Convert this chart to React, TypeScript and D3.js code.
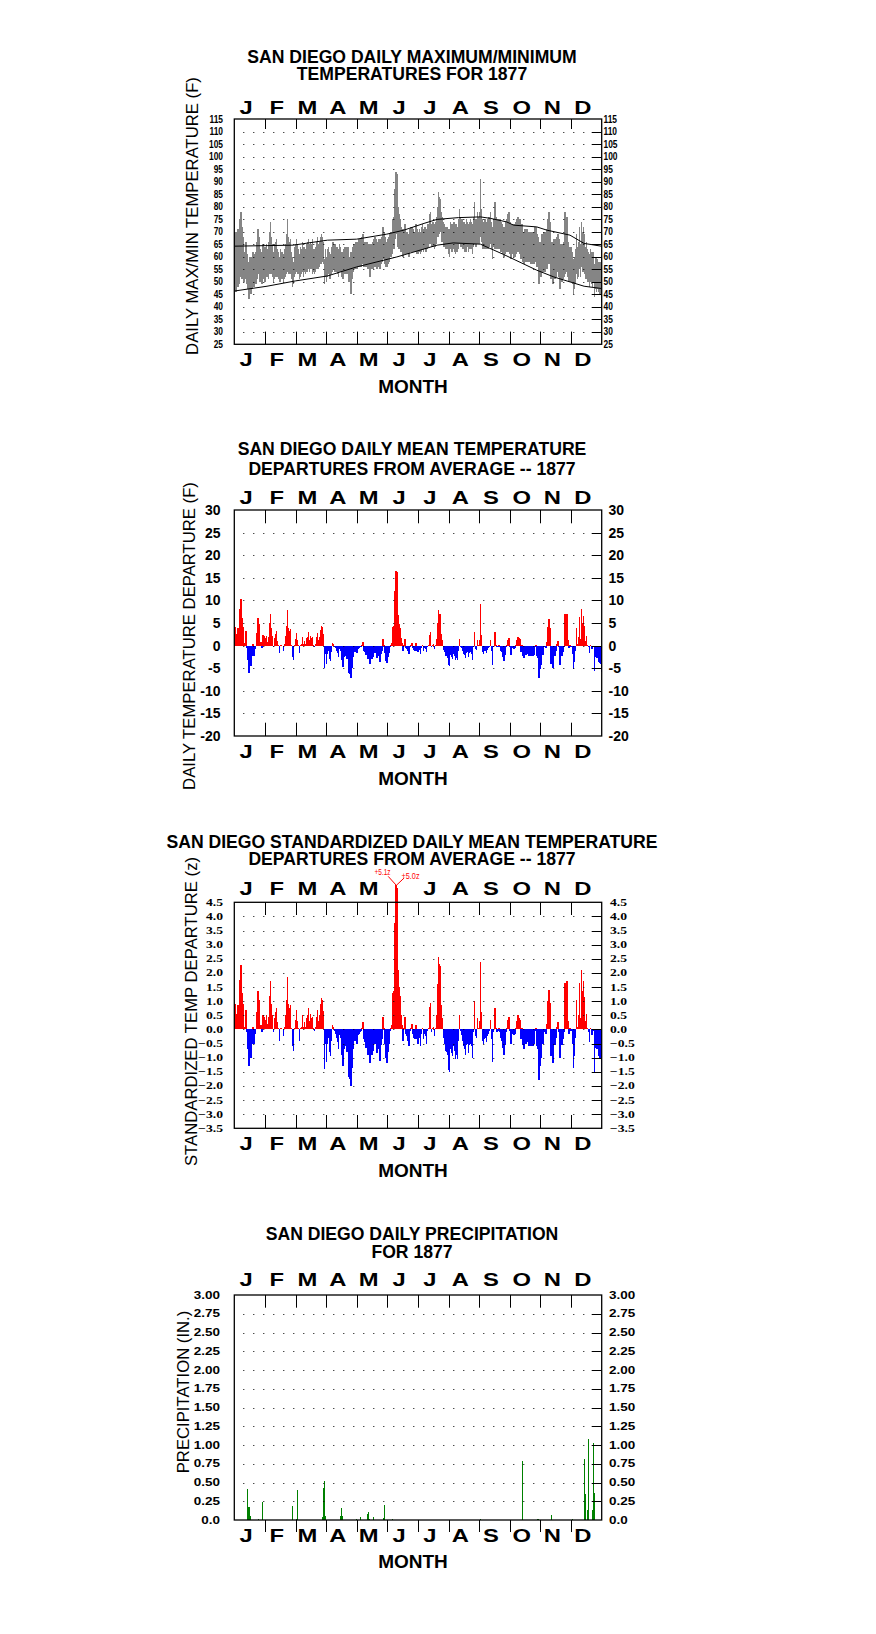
import React, { useEffect } from "react";
import * as d3 from "d3";

// ---------------- DATA ----------------
const MONTH_LETTERS = ["J", "F", "M", "A", "M", "J", "J", "A", "S", "O", "N", "D"];

// Chart 1 : daily maximum / minimum temperatures (F), day 0 = Jan 1
const TMAX = [
  70, 70, 66, 71, 67, 75, 78, 72, 68, 62, 60, 66, 61, 58, 56, 60, 57, 60, 62, 59, 61, 62, 66, 71, 68, 63, 62, 61, 65, 64, 64,
  65, 63, 66, 70, 74, 68, 65, 62, 65, 66, 67, 63, 62, 60, 63, 62, 62, 61, 63, 65, 69, 75, 68, 66, 67, 62, 60, 58,
  64, 65, 67, 65, 63, 61, 64, 63, 66, 64, 64, 63, 65, 66, 67, 65, 66, 65, 67, 63, 63, 64, 66, 68, 65, 66, 68, 69, 68, 66, 59,
  63, 60, 63, 64, 62, 61, 64, 66, 66, 65, 65, 64, 64, 63, 65, 64, 62, 61, 63, 64, 64, 63, 64, 60, 59, 62, 61, 64, 65, 65,
  66, 65, 66, 67, 67, 67, 68, 69, 66, 66, 65, 66, 64, 65, 63, 65, 65, 66, 67, 68, 67, 66, 66, 67, 65, 67, 68, 72, 70, 68, 66,
  65, 67, 68, 69, 70, 70, 75, 76, 87, 94, 93, 80, 77, 75, 72, 71, 69, 71, 73, 70, 70, 69, 69, 71, 72, 72, 71, 70, 70, 73,
  71, 70, 71, 70, 72, 73, 71, 72, 72, 71, 73, 73, 77, 78, 73, 74, 74, 73, 74, 76, 80, 86, 84, 83, 78, 76, 74, 73, 72, 72, 72,
  71, 71, 74, 73, 73, 74, 74, 73, 73, 72, 75, 79, 76, 75, 75, 74, 74, 73, 75, 74, 73, 74, 75, 74, 73, 76, 82, 75, 75, 78, 76,
  78, 91, 79, 75, 74, 75, 75, 74, 75, 76, 76, 78, 74, 72, 75, 82, 76, 75, 75, 75, 75, 74, 73, 72, 71, 72, 74, 75, 77, 78,
  74, 72, 73, 73, 73, 73, 74, 75, 76, 75, 75, 71, 73, 70, 70, 71, 70, 71, 70, 69, 70, 69, 70, 69, 70, 72, 72, 69, 68, 66, 65,
  66, 69, 68, 70, 70, 69, 71, 75, 78, 74, 64, 66, 63, 67, 66, 67, 68, 69, 67, 63, 65, 65, 65, 66, 78, 75, 76, 66, 63, 64,
  64, 62, 59, 60, 63, 69, 64, 66, 72, 65, 74, 70, 72, 69, 64, 66, 63, 62, 61, 63, 62, 62, 62, 57, 60, 60, 59, 58, 58, 58, 56,
];
const TMIN = [
  49, 46, 50, 48, 49, 52, 54, 51, 51, 50, 51, 52, 49, 47, 43, 45, 45, 47, 50, 48, 49, 49, 51, 53, 53, 50, 51, 49, 51, 51, 50,
  52, 52, 51, 53, 53, 53, 52, 50, 51, 52, 52, 52, 51, 50, 50, 51, 51, 50, 51, 52, 53, 54, 53, 53, 53, 51, 48, 49,
  52, 53, 54, 53, 53, 51, 52, 53, 54, 52, 54, 53, 54, 54, 55, 54, 55, 55, 53, 54, 53, 54, 55, 55, 55, 56, 57, 57, 58, 57, 49,
  52, 50, 52, 53, 51, 51, 53, 54, 55, 54, 54, 54, 53, 52, 54, 54, 52, 51, 53, 53, 53, 53, 54, 50, 50, 45, 51, 54, 55, 55,
  55, 55, 56, 56, 56, 56, 57, 57, 56, 56, 56, 56, 55, 56, 52, 56, 55, 55, 56, 57, 56, 55, 56, 57, 55, 57, 58, 59, 59, 57, 56,
  56, 57, 58, 60, 60, 61, 63, 63, 67, 69, 70, 64, 63, 63, 62, 62, 60, 61, 62, 61, 61, 61, 60, 62, 62, 63, 62, 62, 62, 62,
  61, 61, 62, 61, 62, 63, 62, 63, 62, 62, 63, 64, 65, 65, 64, 64, 64, 63, 64, 65, 68, 68, 69, 70, 66, 66, 64, 64, 63, 63, 63,
  61, 60, 63, 62, 62, 63, 62, 61, 62, 62, 63, 65, 64, 64, 63, 63, 62, 62, 62, 64, 62, 63, 63, 63, 61, 64, 65, 64, 64, 65, 65,
  65, 68, 66, 63, 63, 63, 63, 63, 63, 63, 64, 65, 63, 59, 64, 63, 64, 63, 63, 64, 63, 62, 62, 61, 60, 61, 62, 62, 62, 62,
  61, 59, 61, 61, 60, 60, 61, 62, 62, 62, 61, 59, 60, 58, 57, 58, 58, 59, 58, 58, 58, 57, 57, 57, 57, 58, 59, 56, 56, 49, 54,
  52, 55, 54, 55, 54, 55, 55, 57, 58, 57, 51, 52, 49, 52, 51, 52, 54, 54, 52, 47, 51, 50, 51, 52, 53, 54, 54, 52, 50, 51,
  50, 49, 45, 47, 49, 53, 51, 52, 55, 52, 56, 54, 54, 53, 51, 51, 50, 50, 48, 50, 49, 48, 50, 44, 47, 46, 47, 46, 45, 45, 42,
];
// Chart 1 : normal max / min curves (day, degF)
const NMAX_DAY = [0, 58, 92, 121, 151, 168, 188, 201, 222, 244, 254, 270, 277, 300, 310, 333, 347, 364];
const NMAX_VAL = [64.2, 64.6, 66.6, 67, 69, 70.6, 73.3, 74.9, 75.6, 75.9, 75.3, 73.9, 72.6, 71.9, 70.6, 68.6, 65.3, 64.2];
const NMIN_DAY = [0, 32, 60, 92, 121, 161, 201, 217, 244, 267, 300, 317, 347, 364];
const NMIN_VAL = [46.3, 48.2, 50.3, 52.3, 55.9, 59.9, 64.6, 65.5, 65, 60.9, 54.6, 51.9, 48.2, 47.3];

// Chart 2 : daily mean temperature departure (F)
const DEP = [
  4.1, 2.5, 2.5, 3.9, 2.5, 8.1, 10.4, 6.0, 4.1, 0.5, 0, 3.2, -0.5, -3.2, -6.0, -3.2, -4.6, -2.3, 0.3, -2.3, -0.7, 0, 2.8, 6.2, 4.8, 0.7, 0.7, -0.5, 2.3, 2.1, 1.6,
  2.1, 0.8, 1.9, 5.0, 7.1, 3.8, 2.1, -0.4, 1.7, 2.5, 3.2, 1.1, 0.2, -1.7, 0.2, 0.2, 0, -1.1, 0.4, 2.1, 4.4, 7.8, 3.8, 3.2, 3.6, 0.2, -2.5, -3.2,
  0.2, 1.4, 2.7, 1.2, 0.2, -1.6, 0.2, 0.4, 2.0, 0.4, 1.0, 0.4, 1.6, 2.0, 2.9, 1.2, 2.1, 1.6, 1.8, 0.2, -0.2, 0.4, 1.8, 2.7, 1.2, 2.0, 3.5, 4.3, 4.1, 2.5, -5.0,
  -1.8, -4.1, -1.8, -1.1, -2.9, -3.4, -1.4, 0.5, 0.4, -0.2, -0.5, -1.1, -1.6, -2.5, -0.7, -1.1, -3.2, -4.7, -2.5, -2.0, -2.2, -2.9, -1.8, -6.1, -6.3, -7.2, -4.9, -2.5, -1.1, -1.4,
  -0.7, -1.7, -0.7, -0.5, -0.3, -0.2, 0.2, 0.8, -1.2, -1.5, -2.1, -1.7, -3.0, -2.3, -4.0, -2.6, -3.0, -2.5, -1.7, -1.0, -1.7, -2.8, -2.3, -2.0, -3.6, -1.8, -1.2, 1.5, 0.2, -1.7, -3.3,
  -3.8, -2.6, -1.6, -0.2, 0.2, 0.5, 4.2, 4.3, 12.0, 16.4, 16.3, 6.8, 4.8, 3.8, 1.6, 0.5, -1.3, 0.2, 1.4, -0.5, -0.8, -1.3, -1.9, -0.2, 0.2, 0.6, -0.5, -1.0, -1.1, 0.5,
  -1.1, -1.5, -0.9, -1.8, -0.5, 0.2, -1.1, -0.5, -0.8, -1.5, -0.2, 0.2, 2.4, 2.9, -0.3, 0.2, 0.3, -0.8, 0.2, 1.5, 4.9, 7.8, 7.0, 6.9, 2.6, 1.2, -0.9, -1.5, -2.3, -2.4, -2.8,
  -4.4, -4.6, -2.1, -2.6, -2.9, -1.8, -2.3, -3.2, -2.7, -3.2, -1.2, 1.5, -0.2, -0.6, -1.2, -1.8, -2.1, -2.7, -1.7, -1.5, -2.6, -1.7, -1.5, -1.8, -3.1, -0.3, 3.1, -0.8, -0.9, 1.2, 0.2,
  1.2, 9.2, 2.3, -1.5, -1.9, -1.3, -1.2, -1.7, -1.0, -0.6, -0.2, 1.3, -1.3, -4.4, -0.4, 2.9, 0.2, -0.4, -0.2, 0.2, -0.4, -1.2, -1.5, -2.5, -3.5, -2.1, -0.4, 0.2, 1.3, 1.7,
  -0.2, -2.0, -0.6, -0.6, -0.8, -0.6, 0.2, 1.2, 2.0, 1.6, 1.4, -1.4, 0.2, -2.2, -2.8, -1.6, -2.0, -1.2, -1.8, -2.4, -1.4, -2.4, -1.8, -2.4, -2.0, -0.2, 0.2, -2.4, -2.8, -7.2, -5.2,
  -4.2, -1.3, -2.1, -0.4, -0.4, -0.6, 0.8, 4.2, 5.9, 4.0, -4.0, -2.1, -5.0, -1.5, -2.3, -1.3, 0.4, 1.1, -0.4, -4.2, -1.7, -2.3, -1.5, -0.4, 6.9, 6.3, 7.1, 1.3, -0.6, 0.2,
  -0.2, -1.9, -5.1, -3.6, -1.1, 4.0, 0.4, 1.9, 6.3, 1.5, 8.0, 5.1, 6.5, 4.4, 1.1, 2.1, 0.2, -0.4, -1.7, 0.2, -0.8, -0.8, -0.2, -5.7, -2.5, -2.7, -2.7, -3.6, -3.8, -4.0, -5.9,
];

// Chart 3 : standardized daily mean departure (z)
const ZDEP = [
  0.9, 0.55, 0.55, 0.85, 0.55, 1.75, 2.27, 1.3, 0.9, 0.1, 0, 0.7, -0.1, -0.7, -1.3, -0.7, -1.0, -0.5, 0.07, -0.5, -0.15, 0, 0.6, 1.35, 1.05, 0.15, 0.15, -0.1, 0.5, 0.45, 0.35,
  0.5, 0.2, 0.45, 1.2, 1.7, 0.9, 0.5, -0.1, 0.4, 0.6, 0.75, 0.25, 0.05, -0.4, 0.05, 0.05, 0, -0.25, 0.1, 0.5, 1.05, 1.85, 0.9, 0.75, 0.85, 0.05, -0.6, -0.75,
  0.05, 0.35, 0.7, 0.3, 0.05, -0.4, 0.05, 0.1, 0.5, 0.1, 0.25, 0.1, 0.4, 0.5, 0.75, 0.3, 0.55, 0.4, 0.45, 0.05, -0.05, 0.1, 0.45, 0.7, 0.3, 0.5, 0.9, 1.1, 1.05, 0.65, -1.4,
  -0.5, -1.15, -0.5, -0.3, -0.8, -0.95, -0.4, 0.15, 0.1, -0.05, -0.15, -0.3, -0.45, -0.7, -0.2, -0.3, -0.9, -1.3, -0.7, -0.55, -0.6, -0.8, -0.5, -1.7, -1.75, -2.0, -1.35, -0.7, -0.3, -0.4,
  -0.2, -0.5, -0.2, -0.15, -0.1, -0.05, 0.05, 0.25, -0.35, -0.45, -0.65, -0.5, -0.9, -0.7, -1.2, -0.8, -0.9, -0.75, -0.5, -0.3, -0.5, -0.85, -0.7, -0.6, -1.1, -0.55, -0.35, 0.45, 0.05, -0.5, -1.0,
  -1.2, -0.8, -0.5, -0.05, 0.05, 0.15, 1.3, 1.35, 3.75, 5.1, 5.0, 2.1, 1.5, 1.2, 0.5, 0.15, -0.4, 0.05, 0.45, -0.15, -0.25, -0.4, -0.6, -0.05, 0.05, 0.2, -0.15, -0.3, -0.35, 0.15,
  -0.35, -0.5, -0.3, -0.6, -0.15, 0.05, -0.35, -0.15, -0.25, -0.5, -0.05, 0.05, 0.8, 0.95, -0.1, 0.05, 0.1, -0.25, 0.05, 0.5, 1.6, 2.55, 2.3, 2.25, 0.85, 0.4, -0.3, -0.5, -0.75, -0.8, -0.9,
  -1.45, -1.5, -0.7, -0.85, -0.95, -0.6, -0.75, -1.05, -0.9, -1.05, -0.4, 0.5, -0.05, -0.2, -0.4, -0.6, -0.7, -0.9, -0.55, -0.5, -0.85, -0.55, -0.5, -0.6, -1.0, -0.1, 1.0, -0.25, -0.3, 0.4, 0.05,
  0.3, 2.4, 0.6, -0.4, -0.5, -0.35, -0.3, -0.45, -0.25, -0.15, -0.05, 0.35, -0.35, -1.15, -0.1, 0.75, 0.05, -0.1, -0.05, 0.05, -0.1, -0.3, -0.4, -0.65, -0.9, -0.55, -0.1, 0.05, 0.35, 0.45,
  -0.05, -0.5, -0.15, -0.15, -0.2, -0.15, 0.05, 0.3, 0.5, 0.4, 0.35, -0.35, 0.05, -0.55, -0.7, -0.4, -0.5, -0.3, -0.45, -0.6, -0.35, -0.6, -0.45, -0.6, -0.5, -0.05, 0.05, -0.6, -0.7, -1.8, -1.3,
  -1.0, -0.3, -0.5, -0.1, -0.1, -0.15, 0.2, 1.0, 1.4, 0.95, -0.95, -0.5, -1.2, -0.35, -0.55, -0.3, 0.1, 0.25, -0.1, -1.0, -0.4, -0.55, -0.35, -0.1, 1.65, 1.5, 1.7, 0.3, -0.15, 0.05,
  -0.05, -0.5, -1.35, -0.95, -0.3, 1.05, 0.1, 0.5, 1.65, 0.4, 2.1, 1.35, 1.7, 1.15, 0.3, 0.55, 0.05, -0.1, -0.45, 0.05, -0.2, -0.2, -0.05, -1.5, -0.65, -0.7, -0.7, -0.95, -1.0, -1.05, -1.55,
];

// Chart 4 : daily precipitation (inches) on days with rain
const PRCP_DAY = [13, 14, 15, 16, 24, 28, 57, 61, 62, 87, 88, 89, 90, 105, 106, 107, 121, 125, 132, 133, 134, 138, 148, 149, 157, 244, 286, 301, 302, 315, 335, 347, 348, 350, 351, 355, 356, 357];
const PRCP_IN = [0.41, 0.17, 0.17, 0.05, 0.02, 0.24, 0.19, 0.02, 0.40, 0.04, 0.43, 0.52, 0.05, 0.05, 0.16, 0.05, 0.02, 0.04, 0.08, 0.11, 0.02, 0.04, 0.03, 0.20, 0.01, 0.01, 0.79, 0.02, 0.01, 0.07, 0.01, 0.81, 0.35, 0.14, 1.08, 0.13, 1.03, 0.36];

// Tick values / labels
const T1_TICKS = [115, 110, 105, 100, 95, 90, 85, 80, 75, 70, 65, 60, 55, 50, 45, 40, 35, 30, 25];
const T2_TICKS = [30, 25, 20, 15, 10, 5, 0, -5, -10, -15, -20];
const T3_TICKS = [4.5, 4.0, 3.5, 3.0, 2.5, 2.0, 1.5, 1.0, 0.5, 0.0, -0.5, -1.0, -1.5, -2.0, -2.5, -3.0, -3.5];
const T4_TICKS = [3.0, 2.75, 2.5, 2.25, 2.0, 1.75, 1.5, 1.25, 1.0, 0.75, 0.5, 0.25, 0];
const T4_LABELS = ["3.00", "2.75", "2.50", "2.25", "2.00", "1.75", "1.50", "1.25", "1.00", "0.75", "0.50", "0.25", "0.0"];

// ---------------- LAYOUT ----------------
const W = 876;
const H = 1634;
const X0 = 234.3;
const X1 = 601.7;
const SANS = "'Liberation Sans', Arial, Helvetica, sans-serif";
const SERIF = "'Liberation Serif', 'Times New Roman', serif";
const LETTER_SIZE = 18.6;
const LETTER_SX = 1.28;

const xDay = d3.scaleLinear().domain([0, 365]).range([X0, X1]);
const xMon = d3.scaleLinear().domain([0, 12]).range([X0, X1]);

type TickFont = { family: string; size: number; sx: number; dy: number; leftEnd: number; rightStart: number };
type Cfg = {
  top: number;
  bottom: number;
  domain: [number, number];
  ticks: number[];
  tickText: (v: number, i: number) => string;
  font: TickFont;
  topTick: number;
  bottomTick: number;
  bottomOut?: boolean;
  title: string[];
  titleY: number[];
  topLettersY: number;
  bottomLettersY: number;
  monthY: number;
  skipTop?: number[];
  ylabel: string;
  ylabelX: number;
  ylabelY: number;
};

function Letter({ x, y, t }: { x: number; y: number; t: string }) {
  return (
    <text
      transform={`translate(${x},${y}) scale(${LETTER_SX},1)`}
      textAnchor="middle"
      fontFamily={SANS}
      fontWeight="bold"
      fontSize={LETTER_SIZE}
    >
      {t}
    </text>
  );
}

function Frame({ cfg, y }: { cfg: Cfg; y: d3.ScaleLinear<number, number> }) {
  const [lo, hi] = cfg.domain;
  const inner = cfg.ticks.filter((v) => v > lo && v < hi);
  const months = d3.range(1, 12);
  const f = cfg.font;
  return (
    <g>
      {inner.map((v) => {
        const yy = Math.round(y(v)) + 0.5;
        return (
          <line key={"g" + v} x1={X0 + 9} x2={X1 - 11} y1={yy} y2={yy} stroke="#000" strokeWidth={1} strokeDasharray="1 9" />
        );
      })}
      {inner.map((v) => {
        const yy = Math.round(y(v)) + 0.5;
        return <line key={"rt" + v} x1={X1 - 10} x2={X1} y1={yy} y2={yy} stroke="#000" strokeWidth={1} />;
      })}
      {months.map((m) => {
        const xx = Math.round(xMon(m)) + 0.5;
        return (
          <g key={"mt" + m}>
            <line x1={xx} x2={xx} y1={cfg.top} y2={cfg.top + cfg.topTick} stroke="#000" strokeWidth={1} />
            {cfg.bottomOut ? (
              <line x1={xx} x2={xx} y1={cfg.bottom} y2={cfg.bottom + cfg.bottomTick} stroke="#000" strokeWidth={1} />
            ) : (
              <line x1={xx} x2={xx} y1={cfg.bottom - cfg.bottomTick} y2={cfg.bottom} stroke="#000" strokeWidth={1} />
            )}
          </g>
        );
      })}
      <rect x={X0} y={cfg.top} width={X1 - X0} height={cfg.bottom - cfg.top} fill="none" stroke="#000" strokeWidth={1.3} />
      {cfg.ticks.map((v, i) => (
        <g key={"tl" + v}>
          <text
            transform={`translate(${f.leftEnd},${y(v) + f.dy}) scale(${f.sx},1)`}
            textAnchor="end"
            fontFamily={f.family}
            fontWeight="bold"
            fontSize={f.size}
            fill="#000"
          >
            {cfg.tickText(v, i)}
          </text>
          <text
            transform={`translate(${f.rightStart},${y(v) + f.dy}) scale(${f.sx},1)`}
            textAnchor="start"
            fontFamily={f.family}
            fontWeight="bold"
            fontSize={f.size}
            fill="#000"
          >
            {cfg.tickText(v, i)}
          </text>
        </g>
      ))}
      {MONTH_LETTERS.map((l, i) =>
        cfg.skipTop && cfg.skipTop.includes(i) ? null : (
          <Letter key={"ml" + i} x={xMon(i + 0.5) - 3.5} y={cfg.topLettersY} t={l} />
        )
      )}
      {MONTH_LETTERS.map((l, i) => (
        <Letter key={"mb" + i} x={xMon(i + 0.5) - 3.5} y={cfg.bottomLettersY} t={l} />
      ))}
      <text x={413} y={cfg.monthY} textAnchor="middle" fontFamily={SANS} fontWeight="bold" fontSize={19}>
        MONTH
      </text>
      {cfg.title.map((t, i) => (
        <text key={"t" + i} x={412} y={cfg.titleY[i]} textAnchor="middle" fontFamily={SANS} fontWeight="bold" fontSize={17.6}>
          {t}
        </text>
      ))}
      <text
        transform={`translate(${cfg.ylabelX},${cfg.ylabelY}) rotate(-90)`}
        textAnchor="middle"
        fontFamily={SANS}
        fontSize={16.7}
        fill="#000"
      >
        {cfg.ylabel}
      </text>
    </g>
  );
}

const fmtInt = (v: number) => String(v);
const fmt1 = d3.format(".1f");

const C1: Cfg = {
  top: 119, bottom: 344.3, domain: [25, 115], ticks: T1_TICKS, tickText: fmtInt,
  font: { family: SANS, size: 10.5, sx: 0.8, dy: 3.6, leftEnd: 223, rightStart: 603.5 },
  topTick: 10, bottomTick: 12.7,
  title: ["SAN DIEGO DAILY MAXIMUM/MINIMUM", "TEMPERATURES FOR 1877"], titleY: [62.7, 80],
  topLettersY: 114, bottomLettersY: 366, monthY: 393.3,
  ylabel: "DAILY MAX/MIN TEMPERATURE (F)", ylabelX: 198, ylabelY: 216,
};
const C2: Cfg = {
  top: 510, bottom: 736, domain: [-20, 30], ticks: T2_TICKS, tickText: fmtInt,
  font: { family: SANS, size: 14, sx: 1, dy: 5, leftEnd: 220.5, rightStart: 608.5 },
  topTick: 13.3, bottomTick: 13.3,
  title: ["SAN DIEGO DAILY MEAN TEMPERATURE", "DEPARTURES FROM AVERAGE -- 1877"], titleY: [455, 474.5],
  topLettersY: 504, bottomLettersY: 758.3, monthY: 785,
  ylabel: "DAILY TEMPERATURE DEPARTURE (F)", ylabelX: 195, ylabelY: 636,
};
const C3: Cfg = {
  top: 902.3, bottom: 1128.3, domain: [-3.5, 4.5], ticks: T3_TICKS, tickText: (v) => fmt1(v),
  font: { family: SERIF, size: 10.5, sx: 1.3, dy: 3.5, leftEnd: 223, rightStart: 610 },
  topTick: 12.7, bottomTick: 13.3,
  title: ["SAN DIEGO STANDARDIZED DAILY MEAN TEMPERATURE", "DEPARTURES FROM AVERAGE -- 1877"], titleY: [848.3, 865],
  topLettersY: 895, bottomLettersY: 1150, monthY: 1176.5, skipTop: [5],
  ylabel: "STANDARDIZED TEMP DEPARTURE (z)", ylabelX: 197, ylabelY: 1011.5,
};
const C4: Cfg = {
  top: 1295, bottom: 1520, domain: [0, 3], ticks: T4_TICKS, tickText: (_v, i) => T4_LABELS[i],
  font: { family: SANS, size: 10, sx: 1.35, dy: 3.5, leftEnd: 220, rightStart: 609 },
  topTick: 12.7, bottomTick: 12, bottomOut: true,
  title: ["SAN DIEGO DAILY PRECIPITATION", "FOR 1877"], titleY: [1240, 1258.3],
  topLettersY: 1286, bottomLettersY: 1541.7, monthY: 1568,
  ylabel: "PRECIPITATION (IN.)", ylabelX: 188.5, ylabelY: 1392,
};

const yOf = (c: Cfg) => d3.scaleLinear().domain(c.domain).range([c.bottom, c.top]);

export default function App() {
  useEffect(() => {
    document.body.style.margin = "0";
  }, []);

  const y1 = yOf(C1);
  const y2 = yOf(C2);
  const y3 = yOf(C3);
  const y4 = yOf(C4);

  const nmaxLine = d3
    .line<number>()
    .x((_d, i) => xDay(NMAX_DAY[i] + 0.5))
    .y((d) => y1(d))(NMAX_VAL);
  const nminLine = d3
    .line<number>()
    .x((_d, i) => xDay(NMIN_DAY[i] + 0.5))
    .y((d) => y1(d))(NMIN_VAL);

  const overDays = ZDEP.map((v, i) => ({ v, i })).filter((o) => o.v > C3.domain[1]);
  const apexX = overDays.length ? xDay(overDays[0].i + 1) : 0;
  const apexY = overDays.length ? y3(d3.max(overDays, (o) => o.v) as number) : 0;

  const bw = xDay(1) - xDay(0);

  return (
    <div style={{ position: "absolute", left: 0, top: 0, width: W, height: H, background: "#fff" }}>
      <svg width={W} height={H} viewBox={`0 0 ${W} ${H}`} style={{ display: "block" }}>
        <rect x={0} y={0} width={W} height={H} fill="#fff" />

        {/* ---------- Chart 1 ---------- */}
        <g shapeRendering="crispEdges">
          {TMAX.map((mx, i) => (
            <rect key={"b1" + i} x={xDay(i)} y={y1(mx)} width={bw + 0.5} height={y1(TMIN[i]) - y1(mx)} fill="#858585" />
          ))}
        </g>
        <path d={nmaxLine || ""} fill="none" stroke="#000" strokeWidth={1} />
        <path d={nminLine || ""} fill="none" stroke="#000" strokeWidth={1} />
        <Frame cfg={C1} y={y1} />

        {/* ---------- Chart 2 ---------- */}
        <g shapeRendering="crispEdges">
          {DEP.map((v, i) =>
            v === 0 ? null : (
              <rect
                key={"b2" + i}
                x={xDay(i)}
                y={v > 0 ? y2(v) : y2(0)}
                width={bw + 0.5}
                height={Math.abs(y2(v) - y2(0))}
                fill={v > 0 ? "#ff0000" : "#0000ff"}
              />
            )
          )}
        </g>
        <Frame cfg={C2} y={y2} />

        {/* ---------- Chart 3 ---------- */}
        <g shapeRendering="crispEdges">
          {ZDEP.map((v, i) =>
            v === 0 ? null : (
              <rect
                key={"b3" + i}
                x={xDay(i)}
                y={v > 0 ? y3(v) : y3(0)}
                width={bw + 0.5}
                height={Math.abs(y3(v) - y3(0))}
                fill={v > 0 ? "#ff0000" : "#0000ff"}
              />
            )
          )}
        </g>
        <Frame cfg={C3} y={y3} />
        {overDays.length > 0 && (
          <g>
            <line x1={apexX} y1={apexY} x2={apexX - 8.2} y2={apexY - 9} stroke="#ff0000" strokeWidth={1} />
            <line x1={apexX} y1={apexY} x2={apexX + 7.8} y2={apexY - 7.4} stroke="#ff0000" strokeWidth={1} />
            <text
              x={apexX - 5.8}
              y={apexY - 10}
              textAnchor="end"
              fontFamily={SANS}
              fontSize={9}
              fill="#ff0000"
              textLength={16}
              lengthAdjust="spacingAndGlyphs"
            >
              {"+" + fmt1(overDays[0].v) + "z"}
            </text>
            {overDays[1] && (
              <text
                x={apexX + 5.2}
                y={apexY - 6.7}
                textAnchor="start"
                fontFamily={SANS}
                fontSize={9}
                fill="#ff0000"
                textLength={18}
                lengthAdjust="spacingAndGlyphs"
              >
                {"+" + fmt1(overDays[1].v) + "z"}
              </text>
            )}
          </g>
        )}

        {/* ---------- Chart 4 ---------- */}
        <g shapeRendering="crispEdges">
          {PRCP_DAY.map((d, i) => (
            <rect key={"b4" + i} x={xDay(d)} y={y4(PRCP_IN[i])} width={1} height={y4(0) - y4(PRCP_IN[i])} fill="#008000" />
          ))}
        </g>
        <Frame cfg={C4} y={y4} />
      </svg>
    </div>
  );
}
